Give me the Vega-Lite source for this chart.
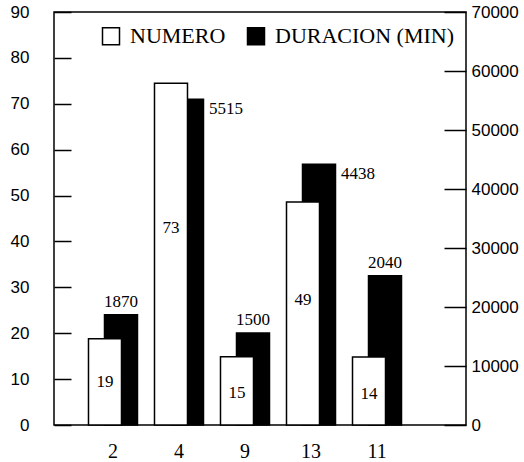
{
  "$schema": "https://vega.github.io/schema/vega-lite/v6.json",
  "width": 412,
  "height": 413,
  "autosize": {"type": "none"},
  "padding": {"left": 54, "top": 12, "right": 58, "bottom": 37},
  "background": "white",
  "config": {
    "view": {"stroke": "black", "strokeWidth": 1.5},
    "axis": {"labelColor": "black", "tickColor": "black", "grid": false, "domain": false}
  },
  "data": {
    "values": [
      {"grupo": "2", "numero": 18.8, "numero_etiqueta": "19", "duracion": 18700, "duracion_etiqueta": "1870"},
      {"grupo": "4", "numero": 74.5, "numero_etiqueta": "73", "duracion": 55200, "duracion_etiqueta": "5515"},
      {"grupo": "9", "numero": 14.9, "numero_etiqueta": "15", "duracion": 15600, "duracion_etiqueta": "1500"},
      {"grupo": "13", "numero": 48.6, "numero_etiqueta": "49", "duracion": 44200, "duracion_etiqueta": "4438"},
      {"grupo": "11", "numero": 14.8, "numero_etiqueta": "14", "duracion": 25300, "duracion_etiqueta": "2040"}
    ]
  },
  "encoding": {
    "x": {
      "field": "grupo", "type": "nominal", "sort": null, "title": null,
      "scale": {"paddingInner": 0, "paddingOuter": 0.621, "align": 0.317},
      "axis": {
        "labelAngle": 0, "ticks": false, "labelFont": "Liberation Serif", "labelFontSize": 20,
        "labelPadding": 16, "labelBaseline": "top",
        "encode": {"labels": {"update": {"dy": {"signal": "datum.label == '13' ? 8 : 0"}}}}
      }
    }
  },
  "layer": [
    {
      "mark": {"type": "bar", "width": 33, "xOffset": 8, "stroke": "black", "strokeWidth": 1.5},
      "encoding": {
        "y": {
          "field": "duracion", "type": "quantitative",
          "scale": {"domain": [0, 70000], "nice": false},
          "axis": {
            "orient": "right", "title": null,
            "values": [0, 10000, 20000, 30000, 40000, 50000, 60000, 70000],
            "format": "d", "tickSize": -22, "tickWidth": 1.5, "labelPadding": 27,
            "labelFont": "Liberation Sans", "labelFontSize": 17
          }
        },
        "color": {
          "datum": "DURACION (MIN)", "type": "nominal",
          "scale": {"domain": ["NUMERO", "DURACION (MIN)"], "range": ["#ffffff", "#000000"]},
          "legend": {
            "title": null, "orient": "none", "legendX": 46, "legendY": 13,
            "direction": "horizontal", "symbolType": "square", "symbolSize": 289,
            "symbolStrokeColor": "black", "symbolStrokeWidth": 1.5, "symbolOpacity": 1,
            "labelFont": "Liberation Serif", "labelFontSize": 22, "labelColor": "black",
            "labelLimit": 0, "labelOffset": 8, "columnPadding": 18, "padding": 0
          }
        }
      }
    },
    {
      "mark": {"type": "bar", "width": 33, "xOffset": -8, "stroke": "black", "strokeWidth": 1.5},
      "encoding": {
        "y": {
          "field": "numero", "type": "quantitative",
          "scale": {"domain": [0, 90], "nice": false},
          "axis": {
            "orient": "left", "title": null,
            "values": [0, 10, 20, 30, 40, 50, 60, 70, 80, 90],
            "tickSize": -17, "tickWidth": 1.5, "labelPadding": 42,
            "labelFont": "Liberation Sans", "labelFontSize": 17
          }
        },
        "color": {"datum": "NUMERO", "type": "nominal"}
      }
    },
    {
      "mark": {"type": "text", "xOffset": -8, "font": "Liberation Serif", "fontSize": 17, "baseline": "middle", "color": "black"},
      "encoding": {
        "y": {"field": "numero", "type": "quantitative", "scale": {"domain": [3.46, 152.4], "zero": false, "nice": false}, "axis": null},
        "text": {"field": "numero_etiqueta"}
      }
    },
    {
      "transform": [{"filter": "datum.grupo != '4' && datum.grupo != '13'"}],
      "mark": {"type": "text", "xOffset": 8, "dy": -13, "font": "Liberation Serif", "fontSize": 17, "baseline": "middle", "color": "black"},
      "encoding": {
        "y": {"field": "duracion", "type": "quantitative", "scale": {"domain": [0, 70000], "nice": false}, "axis": null},
        "text": {"field": "duracion_etiqueta"}
      }
    },
    {
      "transform": [{"filter": "datum.grupo == '4' || datum.grupo == '13'"}],
      "mark": {"type": "text", "xOffset": 30, "dy": 10, "align": "left", "font": "Liberation Serif", "fontSize": 17, "baseline": "middle", "color": "black"},
      "encoding": {
        "y": {"field": "duracion", "type": "quantitative", "scale": {"domain": [0, 70000], "nice": false}, "axis": null},
        "text": {"field": "duracion_etiqueta"}
      }
    }
  ],
  "resolve": {"scale": {"y": "independent"}}
}
